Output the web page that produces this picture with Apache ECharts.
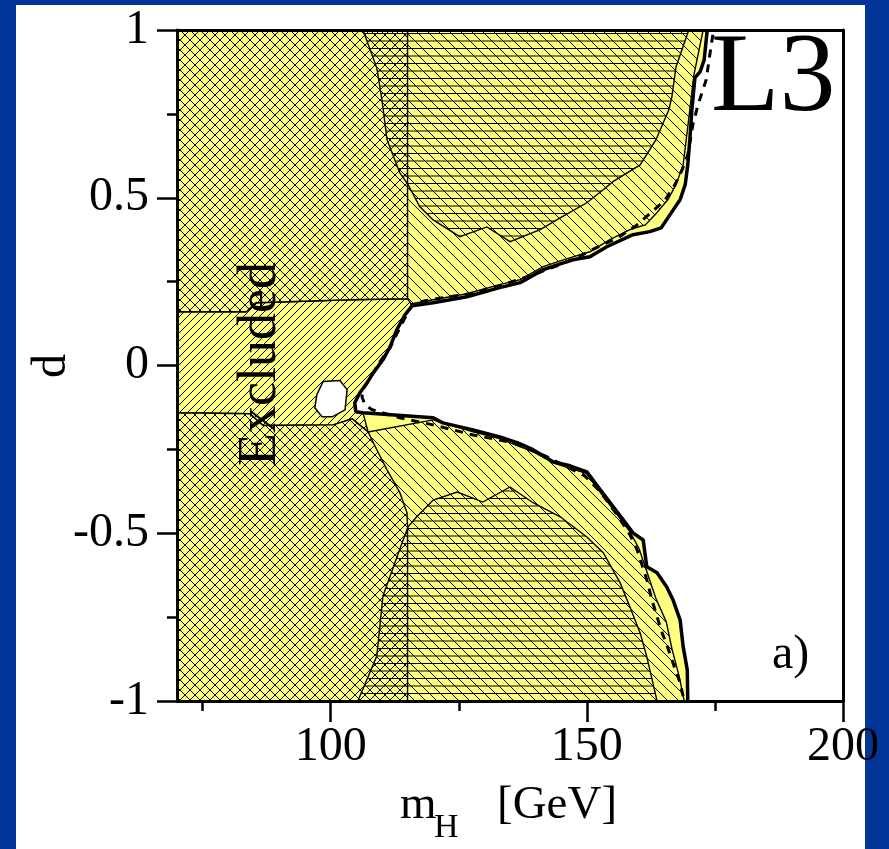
<!DOCTYPE html>
<html>
<head>
<meta charset="utf-8">
<script src="https://cdn.jsdelivr.net/npm/echarts@6.0.0/dist/echarts.min.js"></script>
<style>
html, body { margin: 0; padding: 0; background: #023597; overflow: hidden; }
#panel { position: absolute; left: 16px; top: 5px; width: 849px; height: 844px; background: #fff; }
#main { position: absolute; left: 0; top: 0; width: 889px; height: 849px; }
</style>
</head>
<body>
<div id="panel"></div>
<div id="main"></div>
<script>
// axis ticks
var xMajor = [100, 150, 200];
var xMinor = [75, 125, 175];

// observed limit (thick solid), points are [mH, d]
var observed = [
  [173.5, 1.0], [172.9, 0.911], [172.1, 0.875], [171.1, 0.858], [170.5, 0.762], [170.1, 0.673],
  [169.7, 0.598], [169.2, 0.539], [168.2, 0.494], [166.2, 0.449], [164.5, 0.410], [162.3, 0.399],
  [159.0, 0.390], [153.9, 0.354], [150.6, 0.324], [147.3, 0.315], [144.2, 0.300], [141.4, 0.285],
  [137.0, 0.247], [133.0, 0.232], [126.6, 0.205], [120.0, 0.187], [115.9, 0.178], [114.5, 0.151],
  [112.9, 0.106], [111.6, 0.056], [110.2, 0.017], [108.3, -0.022], [107.1, -0.052], [105.7, -0.081],
  [104.7, -0.111], [104.9, -0.138], [106.3, -0.141],
  [120.0, -0.156], [121.9, -0.171], [127.8, -0.192], [133.0, -0.213], [136.4, -0.230], [139.5, -0.251],
  [143.4, -0.287], [146.7, -0.299], [150.0, -0.317], [152.6, -0.370], [155.9, -0.436], [157.1, -0.460],
  [159.0, -0.499], [161.0, -0.520], [161.7, -0.600], [163.7, -0.618], [165.6, -0.660], [166.8, -0.698],
  [168.2, -0.758], [168.8, -0.838], [169.6, -0.907], [169.7, -1.0]
];

// expected limit (dashed)
var expected = [
  [174.6, 0.986], [174.0, 0.926], [173.3, 0.852], [171.7, 0.777], [170.7, 0.718], [169.7, 0.628],
  [168.6, 0.583], [167.2, 0.539], [165.3, 0.494], [162.7, 0.458], [159.8, 0.419], [156.1, 0.381],
  [152.6, 0.357], [148.7, 0.327], [144.2, 0.297], [138.9, 0.267], [133.0, 0.238], [127.2, 0.214],
  [121.9, 0.202], [118.4, 0.193], [115.9, 0.181], [114.5, 0.142], [113.1, 0.100], [111.6, 0.053],
  [109.6, 0.011], [108.1, -0.028], [106.7, -0.060], [106.1, -0.093], [106.7, -0.117], [108.1, -0.132],
  [113.5, -0.156], [120.0, -0.177], [127.8, -0.207], [135.6, -0.230], [142.2, -0.272], [145.3, -0.296],
  [149.6, -0.329], [152.6, -0.376], [155.9, -0.445], [158.4, -0.504], [159.8, -0.549], [161.7, -0.638],
  [162.7, -0.698], [163.7, -0.749], [164.7, -0.797], [165.8, -0.841], [166.8, -0.886], [168.2, -0.946],
  [169.0, -1.0]
];

// diagonal hatched bands
var hatchUpper = [
  [70, 1], [172.7, 1], [171.7, 0.926], [170.9, 0.866], [170.1, 0.762], [169.4, 0.673], [168.8, 0.598],
  [167.4, 0.539], [165.8, 0.494], [163.3, 0.449], [161.4, 0.419], [158.4, 0.405], [154.5, 0.375],
  [150.6, 0.339], [147.3, 0.324], [144.2, 0.309], [141.4, 0.294], [137.0, 0.256], [133.0, 0.241],
  [126.6, 0.214], [120.0, 0.196], [115.9, 0.184], [70, 0.184]
];
var hatchLower = [
  [70, -0.198], [107.3, -0.198], [120.0, -0.162], [127.8, -0.198], [133.0, -0.218], [139.5, -0.257],
  [143.4, -0.290], [150.0, -0.322], [152.2, -0.370], [155.5, -0.436], [158.4, -0.495], [160.2, -0.546],
  [161.5, -0.605], [163.5, -0.695], [165.5, -0.764], [166.6, -0.844], [168.0, -0.925], [169.0, -1], [70, -1]
];

// cross hatched (mH < 115)
var crossUpper = [[70, 1], [115, 1], [115, 0.199], [103.8, 0.196], [85.4, 0.187], [83.5, 0.160], [70, 0.160]];
var crossLower = [
  [70, -0.141], [84.2, -0.144], [86.8, -0.179], [100.5, -0.177], [104.2, -0.159], [107.3, -0.198],
  [109.0, -0.251], [111.0, -0.311], [113.5, -0.379], [114.9, -0.439], [115, -0.481], [115, -1], [70, -1]
];

// middle band
var slashBand = [
  [70, 0.160], [83.5, 0.160], [85.4, 0.187], [103.8, 0.196], [115, 0.199], [115.9, 0.178], [114.5, 0.151],
  [112.9, 0.106], [111.6, 0.056], [110.2, 0.017], [108.3, -0.022], [107.1, -0.052], [105.7, -0.081],
  [104.7, -0.111], [104.9, -0.138], [106.3, -0.141], [107.3, -0.198], [104.2, -0.159], [100.5, -0.177],
  [86.8, -0.179], [84.2, -0.144], [70, -0.141]
];

// horizontally hatched blobs
var horizUpper = [
  [106.3, 1], [109.0, 0.887], [110.0, 0.792], [111.0, 0.673], [113.5, 0.574], [115.1, 0.539], [117.4, 0.473],
  [120.0, 0.434], [125.2, 0.384], [130.5, 0.413], [135.0, 0.369], [140.9, 0.405], [144.8, 0.440],
  [150.0, 0.485], [153.2, 0.524], [155.1, 0.548], [160.4, 0.598], [163.5, 0.673], [166.0, 0.762],
  [166.6, 0.801], [167.4, 0.890], [169.9, 1]
];
var horizLower = [
  [105.3, -1], [109.0, -0.866], [110.2, -0.687], [113.5, -0.547], [115.1, -0.481], [116.8, -0.451],
  [120.0, -0.401], [124.7, -0.377], [129.7, -0.407], [135.0, -0.362], [139.5, -0.409], [144.8, -0.451],
  [150.0, -0.511], [153.2, -0.558], [156.5, -0.648], [158.4, -0.719], [160.4, -0.797], [161.7, -0.868],
  [163.7, -1]
];

// allowed island
var hole = [[98.5, -0.048], [101.8, -0.045], [103.2, -0.072], [102.8, -0.132], [100.3, -0.153], [98.3, -0.153], [96.9, -0.126], [97.3, -0.087]];

var yellow = '#ffff80';

function tile(size, bg, draw) {
  var c = document.createElement('canvas');
  c.width = size; c.height = size;
  var g = c.getContext('2d');
  if (bg) { g.fillStyle = bg; g.fillRect(0, 0, size, size); }
  g.strokeStyle = '#000';
  g.lineWidth = 1;
  g.beginPath();
  draw(g, size);
  g.stroke();
  return { image: c, repeat: 'repeat' };
}
function back(g, s) {
  for (var k = -1; k <= 1; k++) { g.moveTo(k * s, 0); g.lineTo(k * s + s, s); }
}
function fwd(g, s) {
  for (var k = -1; k <= 1; k++) { g.moveTo(k * s, s); g.lineTo(k * s + s, 0); }
}

var backFill = tile(11, yellow, back);
var fwdFill = tile(8, yellow, fwd);
var crossFill = tile(10, yellow, function (g, s) { back(g, s); fwd(g, s); });
var horizFill = tile(15, null, function (g, s) {
  g.moveTo(0, 3.5); g.lineTo(s, 3.5);
  g.moveTo(0, 11); g.lineTo(s, 11);
});

function area(name, pts, fill, lw) {
  return {
    type: 'custom',
    name: name,
    silent: true,
    clip: true,
    data: [[100, 0]],
    renderItem: function (params, api) {
      return {
        type: 'polygon',
        shape: { points: pts.map(function (p) { return api.coord(p); }) },
        style: { fill: fill, stroke: '#000', lineWidth: lw }
      };
    }
  };
}

var chart = echarts.init(document.getElementById('main'));
var serif = 'Liberation Serif';

var option = {
  animation: false,
  grid: { left: 177, right: 46, top: 30, bottom: 148 },
  xAxis: [
    {
      type: 'value', position: 'bottom', min: 70, max: 200, z: 10,
      axisLine: { onZero: false, lineStyle: { color: '#000', width: 3 } },
      axisTick: { customValues: xMajor, length: 21, lineStyle: { color: '#000', width: 2.5 } },
      axisLabel: { customValues: xMajor, margin: 22, fontSize: 48, fontFamily: serif, color: '#000' },
      splitLine: { show: false }
    },
    {
      type: 'value', position: 'bottom', min: 70, max: 200, z: 10,
      axisLine: { show: false, onZero: false },
      axisTick: { customValues: xMinor, length: 10, lineStyle: { color: '#000', width: 2.5 } },
      axisLabel: { show: false },
      splitLine: { show: false }
    },
    {
      type: 'value', position: 'top', min: 70, max: 200, z: 10,
      axisLine: { onZero: false, lineStyle: { color: '#000', width: 3 } },
      axisTick: { show: false }, axisLabel: { show: false }, splitLine: { show: false }
    }
  ],
  yAxis: [
    {
      type: 'value', position: 'left', min: -1, max: 1, interval: 0.5, z: 10,
      axisLine: { show: true, onZero: false, lineStyle: { color: '#000', width: 3 } },
      axisTick: { show: true, length: 20, lineStyle: { color: '#000', width: 2.5 } },
      minorTick: { show: true, splitNumber: 2, length: 10, lineStyle: { color: '#000', width: 2.5 } },
      axisLabel: { margin: 28, fontSize: 48, fontFamily: serif, color: '#000' },
      splitLine: { show: false }
    },
    {
      type: 'value', position: 'right', min: -1, max: 1, z: 10,
      axisLine: { show: true, onZero: false, lineStyle: { color: '#000', width: 3 } },
      axisTick: { show: false }, axisLabel: { show: false }, splitLine: { show: false }
    }
  ],
  series: [
    area('excluded', observed.concat([[70, -1], [70, 1]]), yellow, 0),
    area('band upper', hatchUpper, backFill, 1.4),
    area('band lower', hatchLower, backFill, 1.4),
    area('middle', slashBand, fwdFill, 1.4),
    area('cross upper', crossUpper, crossFill, 1.4),
    area('cross lower', crossLower, crossFill, 1.4),
    area('horiz upper', horizUpper, horizFill, 1.4),
    area('horiz lower', horizLower, horizFill, 1.4),
    area('hole', hole, '#fff', 1.5),
    {
      type: 'line', name: 'expected', data: expected, symbol: 'none', silent: true,
      lineStyle: { color: '#000', width: 3, type: [8, 7] }
    },
    {
      type: 'line', name: 'observed', data: observed, symbol: 'none', silent: true,
      lineStyle: { color: '#000', width: 3.5 }
    }
  ],
  graphic: [
    { type: 'text', z: 100, x: 711, y: 81, style: { text: 'L3', font: '112px "Liberation Serif"', fill: '#000', align: 'left', verticalAlign: 'middle' } },
    { type: 'text', z: 100, x: 772, y: 655, style: { text: 'a)', font: '48px "Liberation Serif"', fill: '#000', align: 'left', verticalAlign: 'middle' } },
    { type: 'text', z: 100, x: 261, y: 364, rotation: Math.PI / 2, style: { text: 'Excluded', font: '54px "Liberation Serif"', fill: '#000', align: 'center', verticalAlign: 'middle' } },
    { type: 'text', z: 100, x: 52, y: 366, rotation: Math.PI / 2, style: { text: 'd', font: '48px "Liberation Serif"', fill: '#000', align: 'center', verticalAlign: 'middle' } },
    { type: 'text', z: 100, x: 400, y: 806, style: { text: 'm', font: '47px "Liberation Serif"', fill: '#000', align: 'left', verticalAlign: 'middle' } },
    { type: 'text', z: 100, x: 434, y: 828, style: { text: 'H', font: '34px "Liberation Serif"', fill: '#000', align: 'left', verticalAlign: 'middle' } },
    { type: 'text', z: 100, x: 497, y: 806, style: { text: '[GeV]', font: '47px "Liberation Serif"', fill: '#000', align: 'left', verticalAlign: 'middle' } }
  ]
};

chart.setOption(option);
</script>
</body>
</html>
